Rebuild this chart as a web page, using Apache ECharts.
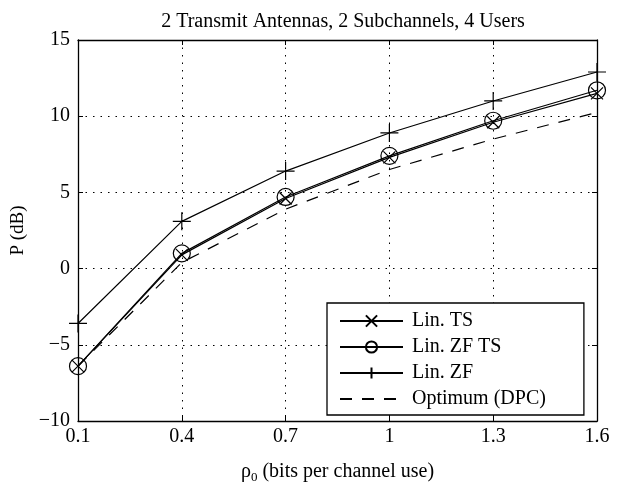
<!DOCTYPE html>
<html><head><meta charset="utf-8">
<script src="https://cdn.jsdelivr.net/npm/echarts@6/dist/echarts.min.js"></script>
<style>html,body{margin:0;padding:0;background:#fff}#c{width:622px;height:489px}</style>
</head><body><div id="c"></div>
<script>
var categories = ['0.1','0.4','0.7','1','1.3','1.6'];
var linTS    = [-6.4, 0.9, 4.6, 7.3, 9.6, 11.5];
var linZFTS  = [-6.4, 1.0, 4.7, 7.4, 9.7, 11.7];
var linZF    = [-3.6, 3.1, 6.4, 8.9, 11.0, 12.9];
var optimum  = [-6.4, 0.4, 3.9, 6.5, 8.5, 10.25];
var seriesNames = ['Lin. TS','Lin. ZF TS','Lin. ZF','Optimum (DPC)'];

var FONT = '"Liberation Serif","Times New Roman",serif';
var chart = echarts.init(document.getElementById('c'), null, {renderer:'canvas'});
var frame = {show:true, onZero:false, lineStyle:{color:'#000', width:1.3}};
var grid = {show:true, lineStyle:{color:'#000', width:1, type:[1.5,6]}};
var marker = function(){ return {color:'rgba(0,0,0,0)', borderColor:'#000', borderWidth:1.2}; };
chart.setOption({
  animation:false,
  backgroundColor:'#fff',
  title:{text:'2 Transmit Antennas, 2 Subchannels, 4 Users', left:338, textAlign:'center', top:7,
    textStyle:{fontFamily:FONT, fontWeight:'normal', fontSize:20, color:'#000'}},
  grid:{left:78, right:25, top:40, bottom:61},
  legend:{
    orient:'vertical', left:327, top:303,
    data:[
      {name:seriesNames[0]},
      {name:seriesNames[1]},
      {name:seriesNames[2]},
      {name:seriesNames[3], itemStyle:{color:'rgba(0,0,0,0)', borderColor:'rgba(0,0,0,0)', borderWidth:0}}
    ],
    backgroundColor:'#fff', borderColor:'#000', borderWidth:1.3,
    padding:[8,38,6,12], itemWidth:63, itemHeight:14, itemGap:6,
    textStyle:{fontFamily:FONT, fontSize:20, color:'#000', lineHeight:20, padding:[0,0,0,4]}
  },
  xAxis:[{
    type:'category', data:categories, boundaryGap:false,
    axisLine:frame, axisTick:{show:true, inside:true, length:5, alignWithLabel:true, lineStyle:{color:'#000'}},
    axisLabel:{fontFamily:FONT, fontSize:20, color:'#000', margin:6},
    splitLine:grid,
    name:'{a|ρ}{s|0}{a| (bits per channel use)}', nameLocation:'middle', nameGap:38,
    nameTextStyle:{rich:{a:{fontFamily:FONT, fontSize:20, color:'#000'}, s:{fontFamily:FONT, fontSize:13, color:'#000', verticalAlign:'bottom', padding:[12,0,0,0]}}}
  },{
    type:'category', data:categories, boundaryGap:false, position:'top',
    axisLine:frame, axisTick:{show:true, inside:true, length:5, alignWithLabel:true, lineStyle:{color:'#000'}},
    axisLabel:{show:false}, splitLine:{show:false}
  }],
  yAxis:[{
    type:'value', min:-10, max:15, interval:5,
    axisLine:frame, axisTick:{show:true, inside:true, length:5, lineStyle:{color:'#000'}},
    axisLabel:{fontFamily:FONT, fontSize:20, color:'#000', margin:8,
      formatter:function(v){ return String(v).replace('-', '\u2212'); }},
    splitLine:grid,
    name:'P (dB)', nameLocation:'middle', nameGap:43, nameRotate:90,
    nameTextStyle:{fontFamily:FONT, fontSize:19, color:'#000'}
  },{
    type:'value', min:-10, max:15, interval:5, position:'right',
    axisLine:frame, axisTick:{show:true, inside:true, length:5, lineStyle:{color:'#000'}},
    axisLabel:{show:false}, splitLine:{show:false}
  }],
  series:[
    {name:'Lin. ZF TS', type:'line', data:linZFTS, symbol:'circle', symbolSize:17,
     lineStyle:{color:'#000', width:1.2}, itemStyle:marker()},
    {name:'Lin. TS', type:'line', data:linTS, symbol:'path://M0,0L10,10M0,10L10,0', symbolSize:12,
     lineStyle:{color:'#000', width:1.2}, itemStyle:marker()},
    {name:'Lin. ZF', type:'line', data:linZF, symbol:'path://M5,0L5,10M0,5L10,5', symbolSize:18,
     lineStyle:{color:'#000', width:1.2}, itemStyle:marker()},
    {name:'Optimum (DPC)', type:'line', data:optimum, symbol:'none',
     lineStyle:{color:'#000', width:1.2, type:[12,10]}, itemStyle:{color:'#000'}}
  ]
});
</script></body></html>
